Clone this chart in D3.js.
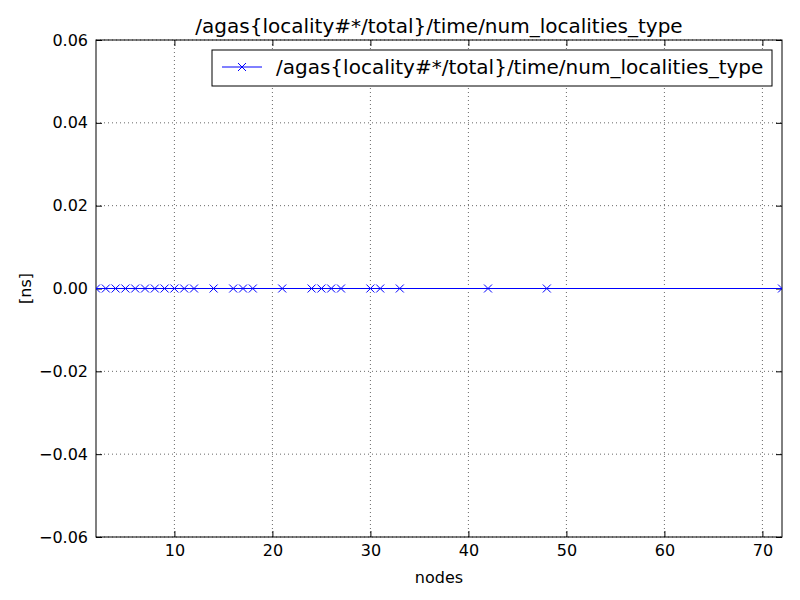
<!DOCTYPE html>
<html><head><meta charset="utf-8">
<script src="https://cdn.jsdelivr.net/npm/d3@7"></script>
<style>body{margin:0;background:#fff}text{font-family:"DejaVu Sans",sans-serif}</style>
</head><body><svg id="c" width="800" height="600"></svg>
<script>
const title="/agas{locality#*/total}/time/num_localities_type";
const nodes=[2,3,4,5,6,7,8,9,10,11,12,14,16,17,18,21,24,25,26,27,30,31,33,42,48,72];
const values=nodes.map(()=>0);
const xTicks=[10,20,30,40,50,60,70];
const yTicks=[-0.06,-0.04,-0.02,0,0.02,0.04,0.06];
const svg=d3.select("#c");
const L=96,R=782,T=40,B=537;
const x=d3.scaleLinear().domain([2,72]).range([L,R]);
const y=d3.scaleLinear().domain([-0.06,0.06]).range([B,T]);
const fmt=v=>v===0?"0.00":(v<0?"\u2212":"")+Math.abs(v).toFixed(2);
svg.append("g").selectAll("line").data(xTicks).join("line")
 .attr("x1",d=>x(d)).attr("x2",d=>x(d)).attr("y1",T).attr("y2",B)
 .attr("stroke","#000").attr("stroke-dasharray","1,3").attr("stroke-width",0.6);
svg.append("g").selectAll("line").data(yTicks).join("line")
 .attr("x1",L).attr("x2",R).attr("y1",d=>y(d)).attr("y2",d=>y(d))
 .attr("stroke","#000").attr("stroke-dasharray","1,3").attr("stroke-width",0.6);
const xa=svg.append("g").attr("transform",`translate(0,${B})`).call(d3.axisBottom(x).tickValues(xTicks).tickSize(-6).tickPadding(8));
const xa2=svg.append("g").attr("transform",`translate(0,${T})`).call(d3.axisTop(x).tickValues(xTicks).tickSize(-6).tickFormat(""));
const ya=svg.append("g").attr("transform",`translate(${L},0)`).call(d3.axisLeft(y).tickValues(yTicks).tickSize(-6).tickPadding(8).tickFormat(fmt));
const ya2=svg.append("g").attr("transform",`translate(${R},0)`).call(d3.axisRight(y).tickValues(yTicks).tickSize(-6).tickFormat(""));
[xa,xa2,ya,ya2].forEach(g=>{g.select(".domain").remove();g.selectAll("text").attr("font-size",16).attr("font-family","DejaVu Sans").attr("fill","#000");});
svg.append("rect").attr("x",L).attr("y",T).attr("width",R-L).attr("height",B-T).attr("fill","none").attr("stroke","#000");
svg.append("clipPath").attr("id","cp").append("rect").attr("x",L).attr("y",T).attr("width",R-L).attr("height",B-T);
const g=svg.append("g").attr("clip-path","url(#cp)");
const pts=nodes.map((n,i)=>[n,values[i]]);
g.append("path").attr("d",d3.line().x(d=>x(d[0])).y(d=>y(d[1]))(pts)).attr("fill","none").attr("stroke","#0000ff").attr("stroke-width",1);
const xm=(cx,cy)=>`M${cx-4},${cy-4}L${cx+4},${cy+4}M${cx-4},${cy+4}L${cx+4},${cy-4}`;
g.selectAll(".m").data(pts).join("path").attr("d",d=>xm(x(d[0]),y(d[1]))).attr("stroke","#0000ff").attr("stroke-width",1);
svg.append("text").attr("x",(L+R)/2).attr("y",33).attr("text-anchor","middle").attr("font-size",20).text(title);
svg.append("text").attr("x",(L+R)/2).attr("y",583).attr("text-anchor","middle").attr("font-size",16).text("nodes");
svg.append("text").attr("transform",`translate(31,${(T+B)/2}) rotate(-90)`).attr("text-anchor","middle").attr("font-size",16).text("[ns]");
svg.append("rect").attr("x",212).attr("y",50).attr("width",560).attr("height",36).attr("fill","#fff").attr("stroke","#000");
svg.append("line").attr("x1",222).attr("x2",262).attr("y1",67).attr("y2",67).attr("stroke","#0000ff");
svg.append("path").attr("d",xm(242,67)).attr("stroke","#0000ff");
svg.append("text").attr("x",276).attr("y",74).attr("font-size",20).text(title);
</script></body></html>
